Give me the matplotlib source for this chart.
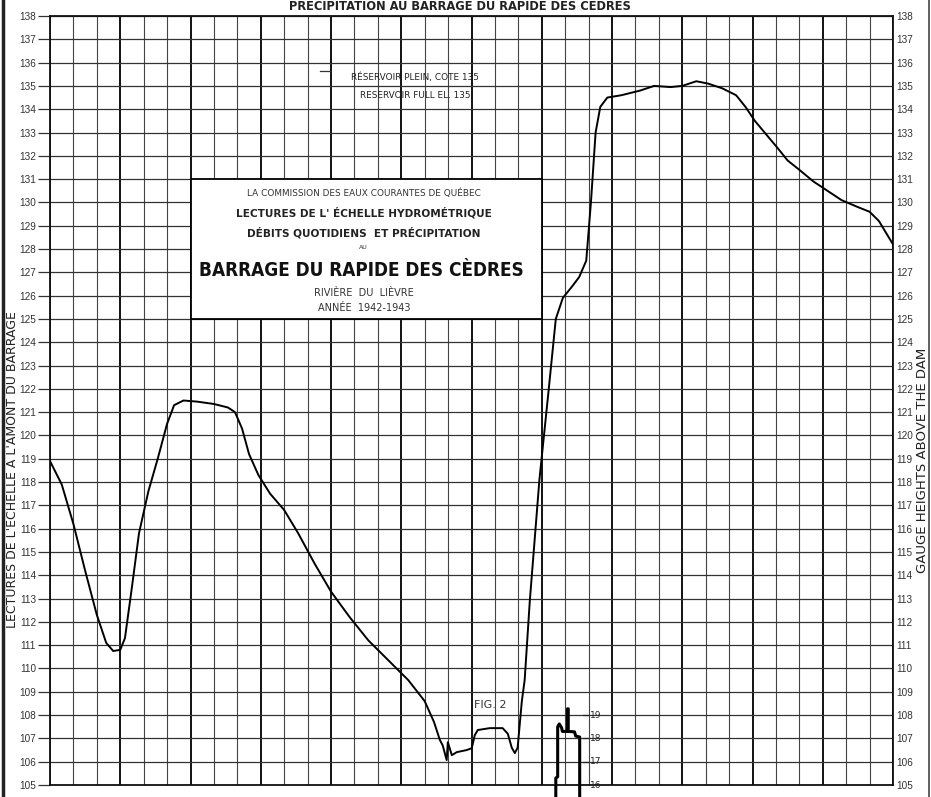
import numpy as np
import matplotlib.pyplot as plt
from matplotlib.patches import Rectangle

# lectures de l'echelle amont, x en decades (3 par mois) depuis le debut de l'annee
decades = [0, 0.5, 1.0, 1.5, 2.0, 2.4, 2.7, 3.0, 3.2, 3.5, 3.8, 4.2, 4.6, 5.0, 5.3,
           5.7, 6.3, 7.0, 7.6, 7.9, 8.2, 8.5, 8.9, 9.4, 10.0, 10.6, 11.3, 12.0,
           12.8, 13.6, 14.5, 15.3, 16.0, 16.4, 16.65, 16.77, 16.94, 16.99, 17.16,
           17.37, 17.8, 18.01, 18.14, 18.27, 18.78, 19.33, 19.55, 19.72, 19.85,
           19.97, 20.15, 20.27, 20.49, 20.9, 21.3, 21.6, 21.9, 22.3, 22.6, 22.9,
           23.1, 23.3, 23.5, 23.8, 24.4, 25.2, 25.8, 26.5, 27.0, 27.6, 28.1, 28.7,
           29.3, 29.7, 30.1, 30.6, 31.1, 31.5, 32.0, 32.6, 33.2, 33.8, 34.5, 35.0,
           35.4, 35.7, 36.0]
niveaux = [118.9, 117.9, 116.2, 114.2, 112.3, 111.1, 110.75, 110.8, 111.3, 113.5,
           115.8, 117.6, 119.0, 120.5, 121.3, 121.5, 121.45, 121.35, 121.2, 121.0,
           120.3, 119.2, 118.3, 117.5, 116.8, 115.8, 114.5, 113.3, 112.2, 111.2,
           110.3, 109.5, 108.6, 107.7, 106.93, 106.7, 106.07, 106.84, 106.28,
           106.41, 106.5, 106.58, 107.14, 107.36, 107.44, 107.44, 107.2, 106.6,
           106.37, 106.6, 108.6, 109.5, 112.9, 118.1, 122.0, 125.0, 125.9, 126.4,
           126.8, 127.5, 130.0, 133.0, 134.1, 134.5, 134.6, 134.8, 135.0, 134.95,
           135.0, 135.2, 135.1, 134.9, 134.6, 134.1, 133.5, 132.9, 132.3, 131.8,
           131.4, 130.9, 130.5, 130.1, 129.8, 129.6, 129.2, 128.7, 128.2]

# haut de la fig. 2 (precipitation) qui depasse en bas
frag_x = [21.6, 21.6, 21.68, 21.68, 21.75, 21.85, 21.88, 22.1, 22.1, 22.13, 22.13,
          22.4, 22.45, 22.62, 22.62]
frag_v = [15.48, 16.3, 16.35, 18.5, 18.62, 18.45, 18.3, 18.3, 19.27, 19.27, 18.3,
          18.28, 18.1, 18.06, 15.48]
frag_ticks = [16, 17, 18, 19]

cote_min, cote_max = 105, 138
n_decades = 36
cote_plein = 135

fig = plt.figure(figsize=(9.31, 7.97), dpi=100)
ax = fig.add_axes([50/931, 1 - 785/797, 843/931, 769/797])
ax.set_xlim(0, n_decades)
ax.set_ylim(cote_min, cote_max)

ax.set_xticks(np.arange(0, n_decades + 1, 3))
ax.set_xticks(np.arange(0, n_decades + 1, 1), minor=True)
ax.set_yticks(np.arange(cote_min, cote_max + 1, 1))
ax.grid(which='minor', axis='x', color='#444', lw=0.8)
ax.grid(which='major', axis='x', color='#111', lw=1.4)
ax.grid(which='major', axis='y', color='#333', lw=0.9)
ax.tick_params(axis='x', which='both', length=0, labelbottom=False)
ax.tick_params(axis='y', length=9, width=0.9, color='#333', labelsize=7.2,
               labelcolor='#333', pad=1)
for lab in ax.get_yticklabels():
    lab.set_family('Liberation Sans')
for side in ['left', 'right', 'top', 'bottom']:
    ax.spines[side].set_linewidth(1.3)
    ax.spines[side].set_color('#111')

# graduation de droite
axr = ax.twinx()
axr.set_ylim(cote_min, cote_max)
axr.set_yticks(np.arange(cote_min, cote_max + 1, 1))
axr.tick_params(axis='y', length=0, labelsize=7.2, labelcolor='#333', pad=2)
for lab in axr.get_yticklabels():
    lab.set_family('Liberation Sans')
for side in ['left', 'right', 'top', 'bottom']:
    axr.spines[side].set_visible(False)

ax.plot(decades, niveaux, color='black', lw=1.4, zorder=5)

# fragment fig. 2
offset = cote_min - frag_ticks[0]
ax.plot(frag_x, np.array(frag_v) + offset, color='black', lw=2.2, zorder=6, clip_on=False)
for t in frag_ticks:
    ax.plot([22.75, 22.96], [t + offset, t + offset], color='#222', lw=0.9, zorder=6)
    ax.text(23.05, t + offset, str(t), fontsize=6.5, va='center', ha='left', color='#222',
            zorder=7)
ax.text(18.78, 108.45, 'FIG. 2', fontsize=8, ha='center', va='center', color='#333',
        zorder=7)

# cartouche
ax.add_patch(Rectangle((6, 125), 15, 6, fc='white', ec='black', lw=1.3, zorder=8))
cx = 13.4
ax.text(cx, 130.4, 'LA COMMISSION DES EAUX COURANTES DE QUÉBEC', fontsize=6.4,
        ha='center', va='center', color='#333', zorder=9)
ax.text(cx, 129.55, "LECTURES DE L' ÉCHELLE HYDROMÉTRIQUE", fontsize=7.6,
        fontweight='bold', ha='center', va='center', color='#222', zorder=9)
ax.text(cx, 128.69, 'DÉBITS QUOTIDIENS  ET PRÉCIPITATION', fontsize=7.6,
        fontweight='bold', ha='center', va='center', color='#222', zorder=9)
ax.text(cx, 128.05, 'AU', fontsize=4.5, ha='center', va='center', color='#333', zorder=9)
ax.text(13.3, 127.08, 'BARRAGE DU RAPIDE DES CÈDRES', fontsize=13.6,
        family='DejaVu Sans', fontstretch='condensed', fontweight='bold',
        ha='center', va='center', color='#111', zorder=9)
ax.text(cx, 126.12, 'RIVIÈRE  DU  LIÈVRE', fontsize=7, ha='center', va='center',
        color='#333', zorder=9)
ax.text(cx, 125.48, 'ANNÉE  1942-1943', fontsize=7, ha='center', va='center',
        color='#333', zorder=9)

# cote du reservoir plein
ax.plot([11.55, 11.95], [cote_plein + 0.62, cote_plein + 0.62], color='#333', lw=0.9)
ax.text(15.6, cote_plein + 0.38, 'RÉSERVOIR PLEIN, COTE 135', fontsize=6.4,
        ha='center', va='center', color='#222', zorder=7)
ax.text(15.6, cote_plein - 0.43, 'RESERVOIR FULL EL. 135', fontsize=6.4,
        ha='center', va='center', color='#222', zorder=7)

fig.text(460/931, 1 - 7/797, 'PRÉCIPITATION AU BARRAGE DU RAPIDE DES CÈDRES',
         fontsize=8.3, fontweight='bold', ha='center', va='center', color='#222')
fig.text(13/931, 1 - 470/797, "LECTURES DE L'ÉCHELLE À L'AMONT DU BARRAGE",
         fontsize=9, rotation=90, ha='center', va='center', color='#222')
fig.text(922/931, 1 - 460/797, 'GAUGE HEIGHTS ABOVE THE DAM',
         fontsize=9.5, rotation=90, ha='center', va='center', color='#222')

# bords du scan
fig.add_artist(plt.Line2D([3/931, 3/931], [0, 1], color='#222', lw=2.5))
fig.add_artist(plt.Line2D([929/931, 929/931], [0, 1], color='#444', lw=1.2))

fig.savefig('out.png', dpi=100)
